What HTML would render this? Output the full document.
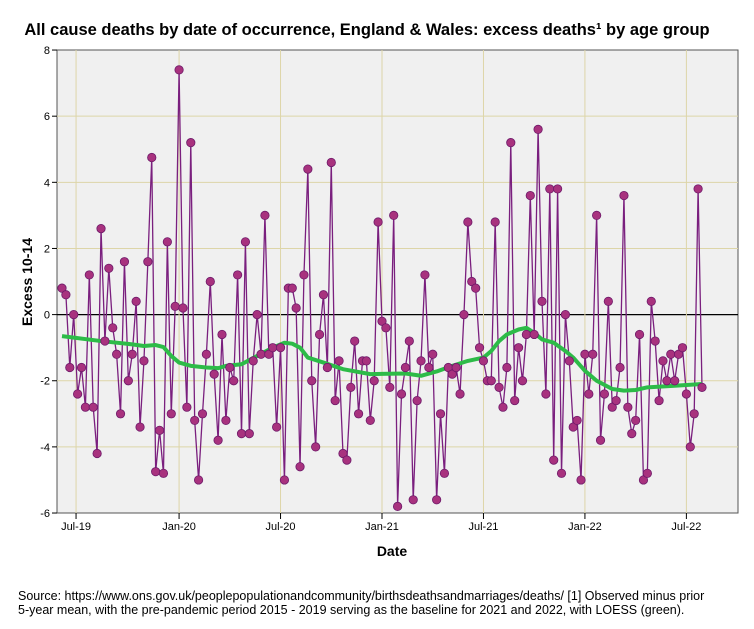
<!DOCTYPE html>
<html><head><meta charset="utf-8"><style>
body{margin:0;background:#fff;font-family:"Liberation Sans",sans-serif}
svg text{font-family:"Liberation Sans",sans-serif}
</style></head><body>
<svg id="chart" width="754" height="624" xmlns="http://www.w3.org/2000/svg">
<rect width="754" height="624" fill="#fff"/>
<text x="367" y="35" text-anchor="middle" font-size="16.5" font-weight="bold">All cause deaths by date of occurrence, England &amp; Wales: excess deaths¹ by age group</text>
<rect x="57" y="50" width="681" height="463" fill="#f0f0f0" stroke="#555" stroke-width="1"/>
<g id="grid"></g>
<g id="yaxis"></g>
<g id="xaxis"></g>
<g id="series"></g>
<text transform="translate(32,282) rotate(-90)" text-anchor="middle" font-size="14" font-weight="bold">Excess 10-14</text>
<text x="392" y="556" text-anchor="middle" font-size="14" font-weight="bold">Date</text>
<text x="18" y="600" font-size="12.5">Source: https://www.ons.gov.uk/peoplepopulationandcommunity/birthsdeathsandmarriages/deaths/  [1] Observed minus prior</text>
<text x="18" y="614" font-size="12.5">5-year mean, with the pre-pandemic period 2015 - 2019 serving as the baseline for 2021 and 2022, with LOESS (green).</text>
</svg>
<script>
const yTicks=[-6,-4,-2,0,2,4,6,8];
const xTickLabels=["Jul-19","Jan-20","Jul-20","Jan-21","Jul-21","Jan-22","Jul-22"];
const xTickWeeks=[3.6,30,56,82,108,134,160];
const excess=[0.8,0.6,-1.6,0,-2.4,-1.6,-2.8,1.2,-2.8,-4.2,
2.6,-0.8,1.4,-0.4,-1.2,-3.0,1.6,-2.0,-1.2,0.4,
-3.4,-1.4,1.6,4.75,-4.75,-3.5,-4.8,2.2,-3.0,0.25,
7.4,0.2,-2.8,5.2,-3.2,-5.0,-3.0,-1.2,1.0,-1.8,
-3.8,-0.6,-3.2,-1.6,-2.0,1.2,-3.6,2.2,-3.6,-1.4,
0,-1.2,3.0,-1.2,-1.0,-3.4,-1.0,-5.0,0.8,0.8,
0.2,-4.6,1.2,4.4,-2.0,-4.0,-0.6,0.6,-1.6,4.6,
-2.6,-1.4,-4.2,-4.4,-2.2,-0.8,-3.0,-1.4,-1.4,-3.2,
-2.0,2.8,-0.2,-0.4,-2.2,3.0,-5.8,-2.4,-1.6,-0.8,
-5.6,-2.6,-1.4,1.2,-1.6,-1.2,-5.6,-3.0,-4.8,-1.6,
-1.8,-1.6,-2.4,0,2.8,1.0,0.8,-1.0,-1.4,-2.0,
-2.0,2.8,-2.2,-2.8,-1.6,5.2,-2.6,-1.0,-2.0,-0.6,
3.6,-0.6,5.6,0.4,-2.4,3.8,-4.4,3.8,-4.8,0,
-1.4,-3.4,-3.2,-5.0,-1.2,-2.4,-1.2,3.0,-3.8,-2.4,
0.4,-2.8,-2.6,-1.6,3.6,-2.8,-3.6,-3.2,-0.6,-5.0,
-4.8,0.4,-0.8,-2.6,-1.4,-2.0,-1.2,-2.0,-1.2,-1.0,
-2.4,-4.0,-3.0,3.8,-2.2];
const loessWeek=[0,10,18,21,24,26,28,30,33,37,40,42,46,50,54,57,59,61,63,67,72,79,88,92,96,100,104,108,110,112,114,117,119,121,123,126,129,131,134,137,141,144,147,150,157,164];
const loessVal=[-0.65,-0.8,-0.9,-0.95,-0.92,-0.98,-1.25,-1.45,-1.55,-1.6,-1.62,-1.55,-1.5,-1.25,-1.0,-0.85,-0.88,-1.0,-1.3,-1.45,-1.65,-1.8,-1.78,-1.85,-1.72,-1.55,-1.4,-1.3,-1.1,-0.8,-0.6,-0.45,-0.4,-0.55,-0.75,-0.85,-1.1,-1.3,-1.7,-2.0,-2.25,-2.3,-2.28,-2.2,-2.15,-2.1];

const NS="http://www.w3.org/2000/svg";
const X0=62,X1=702;
const xs=i=>X0+i*(X1-X0)/164;
const ys=v=>314.6-v*33.07;
function mk(tag,attrs,parent){const e=document.createElementNS(NS,tag);for(const k in attrs)e.setAttribute(k,attrs[k]);parent.appendChild(e);return e;}
const grid=document.getElementById('grid'),ya=document.getElementById('yaxis'),xa=document.getElementById('xaxis'),ser=document.getElementById('series');
yTicks.forEach(t=>{
  const y=ys(t);
  if(t>-6&&t<8){const g=mk('line',{x1:57,x2:738,y1:y,y2:y,stroke:t===0?'#000':'#ddd5a8','stroke-width':t===0?1.2:1},grid);
  
  }
  const tk=mk('line',{x1:52,x2:57,y1:y,y2:y,stroke:'#000'},ya);
  
  
  const tx=mk('text',{x:50,y:y+4,'text-anchor':'end','font-size':11},ya);tx.textContent=t;
  
  
});
xTickWeeks.forEach((w,i)=>{
  const x=xs(w);
  const g=mk('line',{x1:x,x2:x,y1:50,y2:513,stroke:'#ddd5a8'},grid);
  
  
  const tk=mk('line',{x1:x,x2:x,y1:513,y2:519,stroke:'#000'},xa);
  
  
  const tx=mk('text',{x:x,y:530,'text-anchor':'middle','font-size':11},xa);tx.textContent=xTickLabels[i];
  
  
});
const pl=mk('polyline',{points:excess.map((v,i)=>xs(i)+','+ys(v)).join(' '),fill:'none',stroke:'#7a1f7e','stroke-width':1.3},ser);


const lo=mk('polyline',{points:loessWeek.map((w,i)=>xs(w)+','+ys(loessVal[i])).join(' '),fill:'none',stroke:'#2dbb48','stroke-width':4,'stroke-linejoin':'round'},ser);


excess.forEach((v,i)=>{
  const c=mk('circle',{cx:xs(i),cy:ys(v),r:4.2,fill:'#a8327e',stroke:'#6e1a6a','stroke-width':0.8},ser);
  
  
});
</script>
</body></html>
